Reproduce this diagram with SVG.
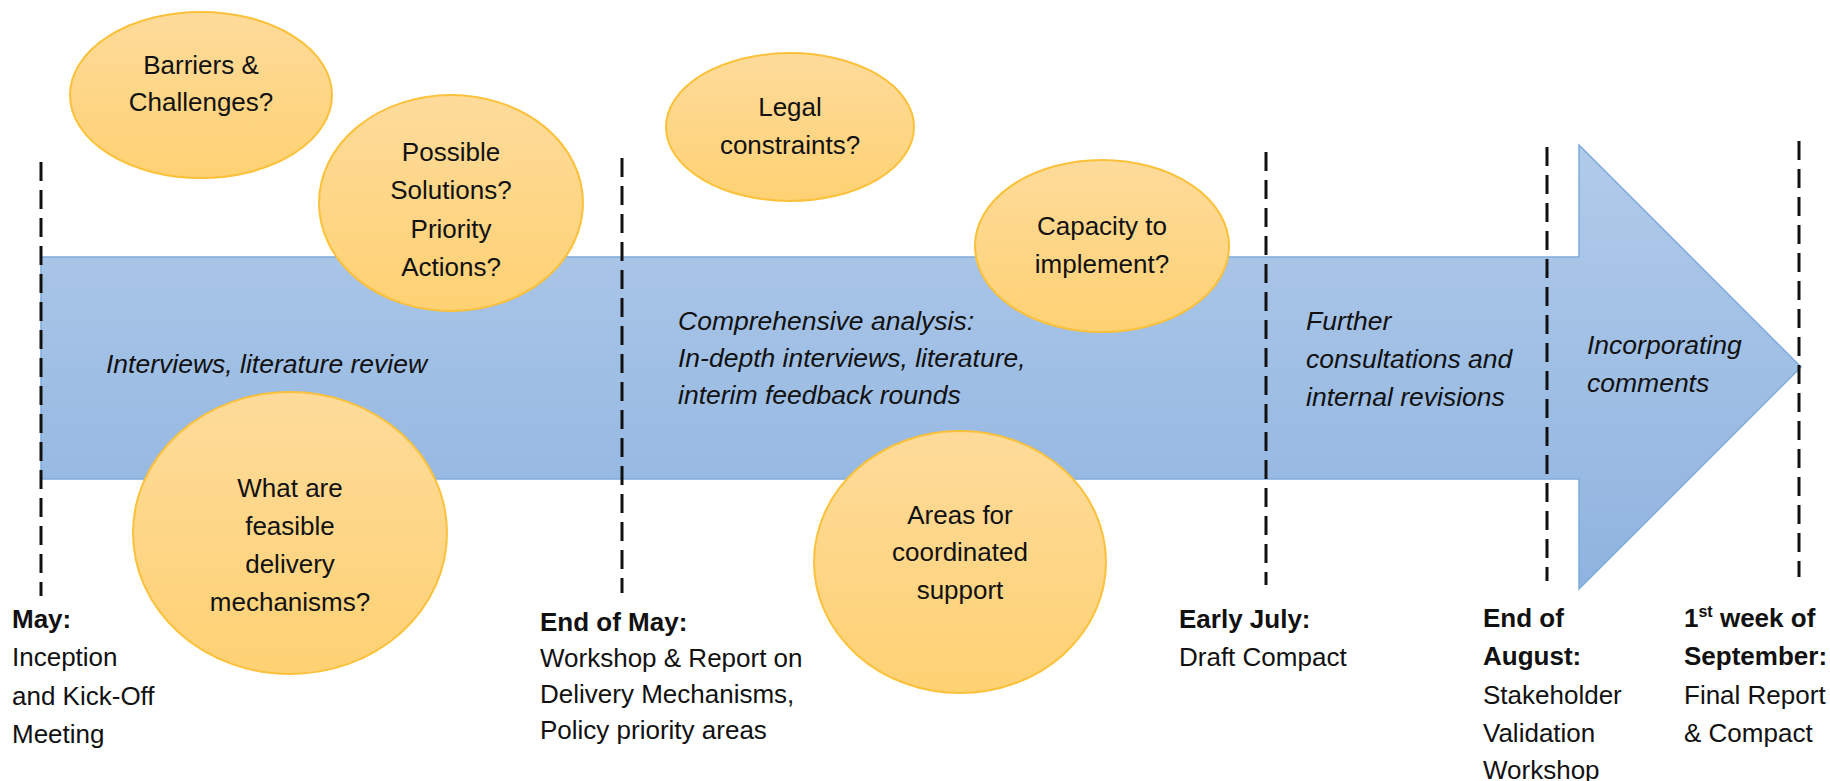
<svg xmlns="http://www.w3.org/2000/svg" width="1830" height="781" viewBox="0 0 1830 781">
<defs>
<linearGradient id="gArrow" x1="0" y1="0" x2="0" y2="1">
<stop offset="0" stop-color="#b1cbea"/>
<stop offset="1" stop-color="#8fb3df"/>
</linearGradient>
<linearGradient id="gEll" x1="0" y1="0" x2="0" y2="1">
<stop offset="0" stop-color="#fedb9b"/>
<stop offset="1" stop-color="#fed173"/>
</linearGradient>
<style>
.ell{fill:url(#gEll);stroke:#fbc13a;stroke-width:2}
.dash{stroke:#111;stroke-width:3;stroke-dasharray:19 9;fill:none}
text{font-family:"Liberation Sans",Arial,sans-serif;font-size:26px;fill:#111}
.c{text-anchor:middle}
.i{font-style:italic;font-size:26.5px}
.b{font-weight:bold}
</style>
</defs>
<g id="arrow">
<polygon points="41,257 1579,257 1579,145 1801,367 1579,589 1579,479 41,479" fill="url(#gArrow)" stroke="#7eaadb" stroke-width="1.5"/>
</g>
<g id="connectors">
<line class="dash" x1="41" y1="162" x2="41" y2="596"/>
<line class="dash" x1="622" y1="158" x2="622" y2="593"/>
<line class="dash" x1="1266" y1="152" x2="1266" y2="585"/>
<line class="dash" x1="1547" y1="147" x2="1547" y2="581"/>
<line class="dash" x1="1799" y1="141" x2="1799" y2="577"/>
</g>
<g id="phase-texts">
<text class="i" x="106" y="373">Interviews, literature review</text>
<text class="i" x="678" y="330">Comprehensive analysis:</text>
<text class="i" x="678" y="367">In-depth interviews, literature,</text>
<text class="i" x="678" y="404">interim feedback rounds</text>
<text class="i" x="1306" y="330">Further</text>
<text class="i" x="1306" y="368">consultations and</text>
<text class="i" x="1306" y="406">internal revisions</text>
<text class="i" x="1587" y="354">Incorporating</text>
<text class="i" x="1587" y="392">comments</text>
</g>
<g id="node-barriers">
<ellipse class="ell" cx="201" cy="95" rx="131" ry="83"/>
<text class="c" x="201" y="74">Barriers &amp;</text>
<text class="c" x="201" y="111">Challenges?</text>
</g>
<g id="node-solutions">
<ellipse class="ell" cx="451" cy="203" rx="132" ry="108"/>
<text class="c" x="451" y="161">Possible</text>
<text class="c" x="451" y="199">Solutions?</text>
<text class="c" x="451" y="238">Priority</text>
<text class="c" x="451" y="276">Actions?</text>
</g>
<g id="node-mechanisms">
<ellipse class="ell" cx="290" cy="533" rx="157" ry="141"/>
<text class="c" x="290" y="497">What are</text>
<text class="c" x="290" y="535">feasible</text>
<text class="c" x="290" y="573">delivery</text>
<text class="c" x="290" y="611">mechanisms?</text>
</g>
<g id="node-legal">
<ellipse class="ell" cx="790" cy="127" rx="124" ry="74"/>
<text class="c" x="790" y="116">Legal</text>
<text class="c" x="790" y="154">constraints?</text>
</g>
<g id="node-capacity">
<ellipse class="ell" cx="1102" cy="246" rx="127" ry="86"/>
<text class="c" x="1102" y="235">Capacity to</text>
<text class="c" x="1102" y="273">implement?</text>
</g>
<g id="node-areas">
<ellipse class="ell" cx="960" cy="562" rx="146" ry="131"/>
<text class="c" x="960" y="524">Areas for</text>
<text class="c" x="960" y="561">coordinated</text>
<text class="c" x="960" y="599">support</text>
</g>
<g id="milestone-may">
<text class="b" x="12" y="628">May:</text>
<text x="12" y="666">Inception</text>
<text x="12" y="705">and Kick-Off</text>
<text x="12" y="743">Meeting</text>
</g>
<g id="milestone-end-may">
<text class="b" x="540" y="631">End of May:</text>
<text x="540" y="667">Workshop &amp; Report on</text>
<text x="540" y="703">Delivery Mechanisms,</text>
<text x="540" y="739">Policy priority areas</text>
</g>
<g id="milestone-july">
<text class="b" x="1179" y="628">Early July:</text>
<text x="1179" y="666">Draft Compact</text>
</g>
<g id="milestone-august">
<text class="b" x="1483" y="627">End of</text>
<text class="b" x="1483" y="665">August:</text>
<text x="1483" y="704">Stakeholder</text>
<text x="1483" y="742">Validation</text>
<text x="1483" y="779">Workshop</text>
</g>
<g id="milestone-september">
<text class="b" x="1684" y="627">1<tspan font-size="16" dy="-10">st</tspan><tspan dy="10"> week of</tspan></text>
<text class="b" x="1684" y="665">September:</text>
<text x="1684" y="704">Final Report</text>
<text x="1684" y="742">&amp; Compact</text>
</g>
</svg>
